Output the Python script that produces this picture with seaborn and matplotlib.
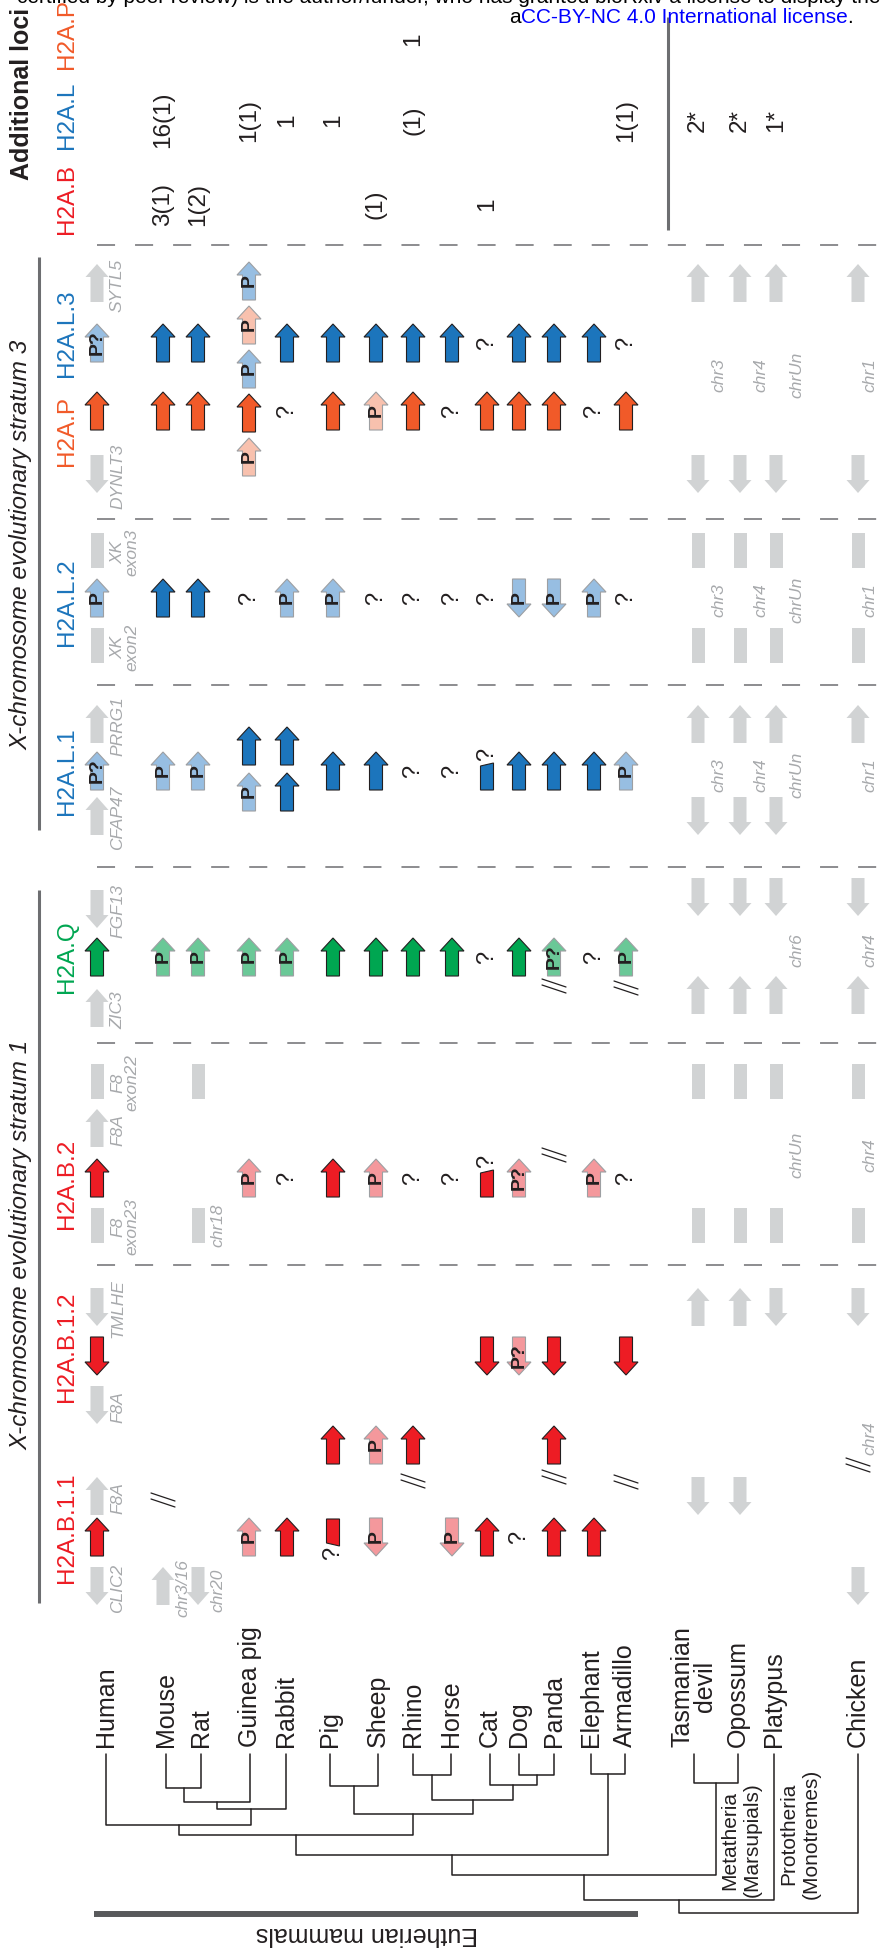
import matplotlib
matplotlib.use("Agg")
import matplotlib.pyplot as plt
from matplotlib.patches import Polygon
import seaborn as sns

sns.set_theme(style="white")
plt.rcParams["font.family"] = ["Liberation Sans", "DejaVu Sans"]
plt.rcParams["lines.scale_dashes"] = False

# ---------------- data ----------------
species = ["Human", "Mouse", "Rat", "Guinea pig", "Rabbit", "Pig", "Sheep", "Rhino",
           "Horse", "Cat", "Dog", "Panda", "Elephant", "Armadillo", "Tasmanian\ndevil",
           "Opossum", "Platypus", "Chicken"]

# additional loci per species ("-" = none)
add_h2ab = "- 3(1) 1(2) - - - (1) - - 1 - - - - - - - -".split()
add_h2al = "- 16(1) - 1(1) 1 1 - (1) - - - - - 1(1) 2* 2* 1* -".split()
add_h2ap = "- - - - - - - 1 - - - - - - - - - -".split()

# histone genes: F/f functional up/down, P/p pseudogene, Q/q "P?", ? unknown,
# T truncated (tail only), t truncated (head only), . absent
h2al3 = "Q F F . F F F F F ? F F F ? . . . .".split()
h2ap = "F F F . ? F P F ? F F F ? F . . . .".split()
h2al2 = "P F F ? P P ? ? ? ? p p P ? . . . .".split()
h2al1 = "Q P P . . F F ? ? T F F F P . . . .".split()
h2al1_up = ". . . F F . . . . . . . . . . . . .".split()
h2al1_dn = ". . . P F . . . . . . . . . . . . .".split()
h2aq = "F P P P P F F F F ? F Q ? P . . . .".split()
h2ab2 = "F . . P ? F P ? ? T Q . P ? . . . .".split()
h2ab12 = "f . . . . . . . . f q f . f . . . .".split()
h2ab1x = ". . . . . F P F . . . F . . . . . .".split()
h2ab11 = "F . . P F t p . p F ? F F . . . . .".split()

# guinea pig stratum-3 cluster, top to bottom
gp_fam = ["L", "P", "L", "P", "P"]
gp_code = ["P", "P", "P", "F", "P"]

# flanking genes: U/D arrow up/down, R exon block
sytl5 = "U . . . . . . . . . . . . . U U U U".split()
dynlt3 = "D . . . . . . . . . . . . . D D D D".split()
xk3 = "R . . . . . . . . . . . . . R R R R".split()
xk2 = "R . . . . . . . . . . . . . R R R R".split()
prrg1 = "U . . . . . . . . . . . . . U U U U".split()
cfap47 = "U . . . . . . . . . . . . . D D D .".split()
fgf13 = "D . . . . . . . . . . . . . D D D D".split()
zic3 = "U . . . . . . . . . . . . . U U U U".split()
f8e22 = "R . R . . . . . . . . . . . R R R R".split()
f8a_b2 = "U . . . . . . . . . . . . . . . . .".split()
f8e23 = "R . R . . . . . . . . . . . R R R R".split()
tmlhe = "D . . . . . . . . . . . . . U U D D".split()
f8a_b12 = "D . . . . . . . . . . . . . . . . .".split()
f8a_b11 = "U . . . . . . . . . . . . . D D . .".split()
clic2 = "D U D . . . . . . . . . . . . . . D".split()

flank_names = ["SYTL5", "DYNLT3", "XK\nexon3", "XK\nexon2", "PRRG1", "CFAP47", "FGF13",
               "ZIC3", "F8\nexon22", "F8A", "F8\nexon23", "TMLHE", "F8A", "F8A", "CLIC2"]

# chromosome labels next to flanking genes
chr_s3 = ["chr3", "chr4", "chrUn", "chr1"]
chr_l2 = ["chr3", "chr4", "chrUn", "chr1"]
chr_l1 = ["chr3", "chr4", "chrUn", "chr1"]
chr_q = ["", "", "chr6", "chr4"]
chr_b2 = ["", "", "chrUn", "chr4"]
chr_b1 = ["", "", "", "chr4"]
other_chr = [("Rat", "chr18"), ("Mouse", "chr3/16"), ("Rat", "chr20")]

breaks = ["Panda", "Armadillo", "Panda", "Mouse", "Rhino", "Panda", "Armadillo", "Chicken"]

headers = ["H2A.L.3", "H2A.P", "H2A.L.2", "H2A.L.1", "H2A.Q", "H2A.B.2", "H2A.B.1.2", "H2A.B.1.1"]
header_fam = ["L", "P", "L", "L", "Q", "B", "B", "B"]

tree_joins = [
    ("Mouse", "Rat", 1788), ("j0", "Guinea pig", 1802), ("j1", "Rabbit", 1809),
    ("Human", "j2", 1825), ("Pig", "Sheep", 1786), ("Rhino", "Horse", 1775),
    ("Dog", "Panda", 1775), ("Cat", "j6", 1785), ("j5", "j7", 1800), ("j4", "j8", 1814),
    ("j3", "j9", 1835), ("Elephant", "Armadillo", 1774), ("j10", "j11", 1855),
    ("Tasmanian\ndevil", "Opossum", 1783), ("j12", "j13", 1875), ("j14", "Platypus", 1900),
    ("j15", "Chicken", 1913),
]

# ---------------- layout ----------------
W, H = 882, 1948
col_x = [97, 163, 198, 249, 287, 333, 376, 413, 452, 487, 519, 554, 594, 626, 698, 740, 776, 858]
tip_x = [106, 166, 201, 250, 286, 330, 378, 413, 451, 490, 519, 554, 591, 625, 694, 738, 774, 858]
chr_dx = [13, 13, 13, 4]
sep_y = [245, 519, 685, 867, 1043, 1265]
header_y = [333, 431, 602, 771, 957, 1184, 1347, 1528]
gp_y0, gp_step = 281, 44
break_y = [986, 988, 1155, 1500, 1481, 1477, 1482, 1465]

pal = {"B": ("#ed1c24", "#f4989c"), "L": ("#1c75bc", "#97bee2"),
       "P": ("#f15a29", "#f8c1ae"), "Q": ("#00a651", "#6ac897")}
INK = "#231f20"
GRAY = "#d1d3d4"
LABEL = "#a7a9ac"
LINE = "#6d6e71"
idx = {s: i for i, s in enumerate(species)}

fig = plt.figure(figsize=(W / 100, H / 100), dpi=100)
ax = fig.add_axes([0, 0, 1, 1])
ax.set_xlim(0, W)
ax.set_ylim(H, 0)
ax.axis("off")


def arrow(x, y, down, fc, ec, lw, L=38, sw=13, hw=24, hl=13):
    d = 1 if down else -1
    tip, tail = y + d * L / 2, y - d * L / 2
    sh = tip - d * hl
    pts = [(x, tip), (x + hw / 2, sh), (x + sw / 2, sh), (x + sw / 2, tail),
           (x - sw / 2, tail), (x - sw / 2, sh), (x - hw / 2, sh)]
    ax.add_patch(Polygon(pts, closed=True, fc=fc, ec=ec, lw=lw, joinstyle="miter", zorder=3))


def qmark(x, y):
    ax.text(x, y, "?", rotation=90, fontsize=17, ha="center", va="center", color=INK, zorder=4)


def gene(i, y, code, fam):
    x = col_x[i]
    dark, light = pal[fam]
    if code == ".":
        return
    if code == "?":
        qmark(x, y)
    elif code in "Ff":
        arrow(x, y, code == "f", dark, INK, 0.8)
    elif code in "PpQq":
        arrow(x, y, code in "pq", light, "#9d9fa2", 0.8)
        ax.text(x, y, "P" if code in "Pp" else "P?", rotation=90, fontsize=14,
                fontweight="bold", ha="center", va="center", color=INK, zorder=4)
    elif code == "T":
        pts = [(x - 6.5, y + 19), (x + 6.5, y + 19), (x + 6.5, y - 8), (x - 6.5, y - 5)]
        ax.add_patch(Polygon(pts, closed=True, fc=dark, ec=INK, lw=0.8, zorder=3))
        qmark(x, y - 17)
    elif code == "t":
        pts = [(x - 6.5, y - 18), (x + 6.5, y - 18), (x + 6.5, y + 9), (x - 6.5, y + 6)]
        ax.add_patch(Polygon(pts, closed=True, fc=dark, ec=INK, lw=0.8, zorder=3))
        qmark(x, y + 16)


def flank(i, y, code):
    x = col_x[i]
    if code in "UD":
        arrow(x, y, code == "D", GRAY, "none", 0, hw=23)
    elif code == "R":
        ax.add_patch(plt.Rectangle((x - 6.5, y - 17.5), 13, 35, fc=GRAY, ec="none", zorder=3))


def gray_label(x, y, s):
    ax.text(x, y, s, rotation=90, fontsize=12.5, style="italic", color=LABEL,
            ha="left", va="center", multialignment="center", linespacing=0.95, zorder=4)


# ---------------- histone rows ----------------
gene_rows = [(h2al3, "L", 343), (h2ap, "P", 411), (h2al2, "L", 598), (h2al1, "L", 771),
             (h2al1_up, "L", 746), (h2al1_dn, "L", 792), (h2aq, "Q", 957), (h2ab2, "B", 1178),
             (h2ab12, "B", 1356), (h2ab1x, "B", 1445), (h2ab11, "B", 1537)]
for codes, fam, y in gene_rows:
    for i, c in enumerate(codes):
        if not (i == idx["Guinea pig"] and fam in "LP" and y < 500):
            gene(i, y, c, fam)
for k, (fam, c) in enumerate(zip(gp_fam, gp_code)):
    gene(idx["Guinea pig"], gp_y0 + k * gp_step, c, fam)

# ---------------- flanking rows ----------------
flank_rows = [(sytl5, 283, 0), (dynlt3, 474, 0), (xk3, 550, 0), (xk2, 645, 0),
              (prrg1, 724, 0), (cfap47, 816, 0), (fgf13, 909, -12), (zic3, 1008, -13),
              (f8e22, 1081, 0), (f8a_b2, 1128, 0), (f8e23, 1225, 0), (tmlhe, 1307, 0),
              (f8a_b12, 1405, 0), (f8a_b11, 1496, 0), (clic2, 1586, 0)]
for (codes, y, dy), name in zip(flank_rows, flank_names):
    for i, c in enumerate(codes):
        flank(i, y + (dy if i >= 14 else 0), c)
    gray_label(col_x[0] + 13, y + 2, name)

for labs, y in [(chr_s3, 375), (chr_l2, 600), (chr_l1, 775), (chr_q, 950),
                (chr_b2, 1155), (chr_b1, 1438)]:
    for k, s in enumerate(labs):
        if s:
            gray_label(col_x[14 + k] + chr_dx[k], y, s)
for (sp, s), y in zip(other_chr, [1225, 1588, 1590]):
    gray_label(col_x[idx[sp]] + 12, y, s)

for sp, y in zip(breaks, break_y):
    x = col_x[idx[sp]]
    for off in (-6, 0):
        ax.plot([x - 12, x + 12], [y + off - 1, y + off + 7], color=INK, lw=0.9, zorder=4)

# separators and brackets
for y in sep_y:
    ax.plot([97, W], [y, y], color=LINE, lw=1.1, dashes=(13, 14.4), zorder=1)
ax.plot([39, 39], [257, 830], color=LINE, lw=2.2, solid_capstyle="butt")
ax.plot([39, 39], [890, 1603], color=LINE, lw=2.2, solid_capstyle="butt")
ax.plot([668, 668], [17, 230], color=LINE, lw=2.2, solid_capstyle="butt")

ax.text(21, 545, "X-chromosome evolutionary stratum 3", rotation=90, style="italic",
        fontsize=17.5, ha="center", va="center", color=INK)
ax.text(21, 1245, "X-chromosome evolutionary stratum 1", rotation=90, style="italic",
        fontsize=17.5, ha="center", va="center", color=INK)
for name, fam, y in zip(headers, header_fam, header_y):
    ax.text(67, y, name, rotation=90, fontsize=17.5, color=pal[fam][0], ha="center", va="center")

# additional loci
ax.text(22, 94, "Additional loci", rotation=90, fontsize=18, fontweight="bold",
        ha="center", va="center", color=INK)
for name, fam, y, vals in [("H2A.B", "B", 199, add_h2ab), ("H2A.L", "L", 115, add_h2al),
                           ("H2A.P", "P", 34, add_h2ap)]:
    ax.text(67, y, name, rotation=90, fontsize=17.5, color=pal[fam][0], ha="center", va="center")
    for i, v in enumerate(vals):
        if v != "-":
            ax.text(col_x[i], y + 5, v, rotation=90, fontsize=17.5, ha="center",
                    va="center", color=INK)

# ---------------- tree ----------------
node = {s: (tip_x[i], 1754) for i, s in enumerate(species)}
for k, (a, b, jy) in enumerate(tree_joins):
    (xa, ya), (xb, yb) = node[a], node[b]
    ax.plot([xa, xa, xb, xb], [ya, jy, jy, yb], color=INK, lw=1.1)
    node[f"j{k}"] = ((xa + xb) / 2, jy)
for i, s in enumerate(species):
    ax.text(tip_x[i], 1747, s, rotation=90, fontsize=18, ha="center", va="bottom",
            multialignment="center", linespacing=0.93, color=INK)
ax.text(741, 1840, "Metatheria\n(Marsupials)", rotation=90, fontsize=15,
        ha="center", va="center", multialignment="center", color=INK)
ax.text(800, 1834, "Prototheria\n(Monotremes)", rotation=90, fontsize=15,
        ha="center", va="center", multialignment="center", color=INK)
ax.plot([94, 638], [1914, 1914], color="#58595b", lw=4.3, solid_capstyle="butt")
ax.text(367, 1934, "Eutherian mammals", rotation=180, fontsize=18, ha="center",
        va="center", color=INK)

# bioRxiv banner
ax.text(17, 3, "certified by peer review) is the author/funder, who has granted bioRxiv a "
        "license to display the preprint in perpetuity. It is made available under",
        fontsize=15, ha="left", va="baseline", color="black")
renderer = fig.canvas.get_renderer()
x = 509
for s, c in [("a", "black"), ("CC-BY-NC 4.0 International license", "#0000ff"), (".", "black")]:
    t = ax.text(x, 23, s, fontsize=15, ha="left", va="baseline", color=c)
    bb = t.get_window_extent(renderer)
    x = ax.transData.inverted().transform((bb.x1, bb.y0))[0]

fig.savefig("out.png", dpi=100)
